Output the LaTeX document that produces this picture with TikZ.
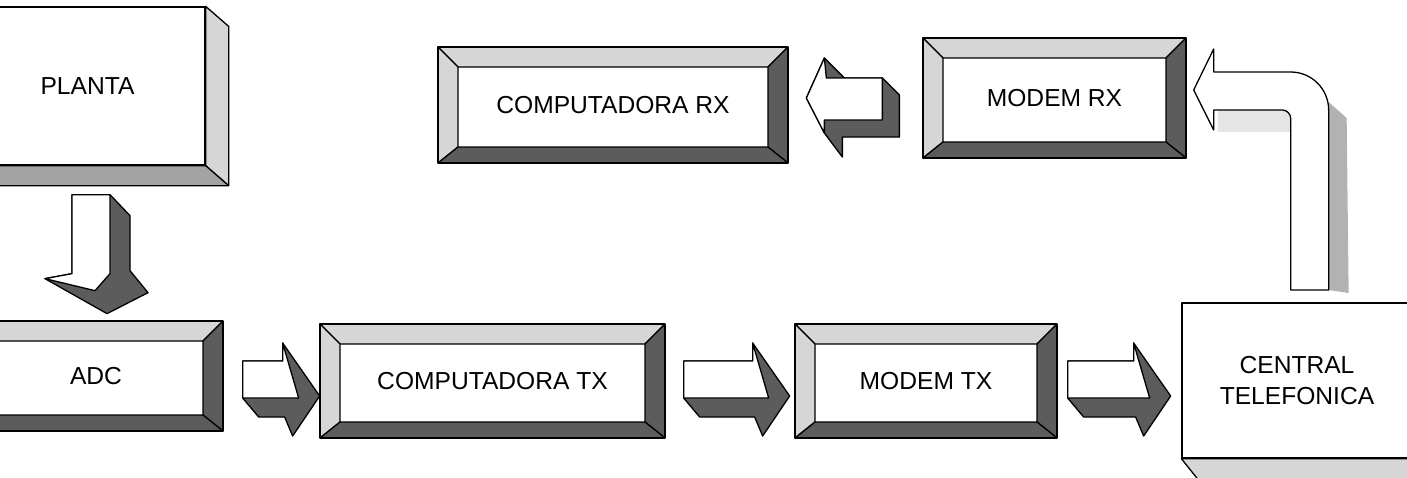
\documentclass[tikz,border=0pt]{standalone}
\usepackage{fontspec}
\setmainfont{Liberation Sans}
\usetikzlibrary{calc}
\colorlet{shadelt}{black!16}
\colorlet{shademd}{black!36}
\colorlet{shadedk}{black!64}
\tikzset{
  lbl/.style={font=\fontsize{12.3}{15.5}\selectfont, align=center},
  solidbox/.style={draw, fill=white, lbl, inner sep=0pt},
  bevelbox/.style={solidbox, path picture={
      \coordinate (nw) at (path picture bounding box.north west);
      \coordinate (ne) at (path picture bounding box.north east);
      \coordinate (sw) at (path picture bounding box.south west);
      \coordinate (se) at (path picture bounding box.south east);
      \filldraw[fill=shadelt] (nw) -- (ne) -- ([shift={(-20,20)}]ne) -- ([shift={(20,20)}]nw) -- cycle;
      \filldraw[fill=shadelt] (nw) -- ([shift={(20,20)}]nw) -- ([shift={(20,-16)}]sw) -- (sw) -- cycle;
      \filldraw[fill=shadedk] (ne) -- ([shift={(-20,20)}]ne) -- ([shift={(-20,-16)}]se) -- (se) -- cycle;
      \filldraw[fill=shadedk] (sw) -- ([shift={(20,-16)}]sw) -- ([shift={(-20,-16)}]se) -- (se) -- cycle;
    }},
  face/.style={draw, fill=#1},
  % block arrows, drawn in pixel units
  rarrow/.pic={
    \filldraw[fill=shadedk] (0,0) -- (#1,0) -- (#1,-18) -- ({#1+37},35) -- ({#1+10},75) -- ({#1+2},56) -- (16,56) -- (0,37) -- cycle;
    \filldraw[fill=white] (0,0) -- (#1,0) -- (#1,-18) -- ({#1+16},37) -- (0,37) -- cycle;
  },
  larrow/.pic={
    \filldraw[fill=shadedk] (-76,20) -- (-58,-20) -- (-38,0) -- (0,0) -- (17,17) -- (17,59) -- (-40,59) -- (-40,79) -- (-58,55) -- cycle;
    \filldraw[fill=white] (-76,20) -- (-58,-20) -- (-56,0) -- (0,0) -- (0,42) -- (-58,42) -- (-58,55) -- cycle;
  },
  darrow/.pic={
    \filldraw[fill=shadedk] (0,0) -- (38,0) -- (58,21) -- (58,76) -- (76,98) -- (35,119) -- (-27,84) -- (0,79) -- cycle;
    \filldraw[fill=white] (0,0) -- (38,0) -- (38,79) -- (23,96) -- (-27,84) -- (0,79) -- cycle;
  },
  barrow/.pic={
    \fill[black!10] (24,20) -- (89,20) .. controls (93,20) and (97,24) .. (97,28) -- (97,42) -- (24,42) -- cycle;
    \fill[black!30] (135,12) -- (153,28) -- (155,203) -- (135,200) -- cycle;
    \filldraw[fill=white] (0,0) -- (20,-41) -- (20,-18) -- (97,-18) .. controls (118,-18) and (135,-1) .. (135,20)
      -- (135,200) -- (97,200) -- (97,28) .. controls (97,24) and (93,20) .. (89,20) -- (20,20) -- (20,40) -- cycle;
  },
}
\begin{document}
\begin{tikzpicture}[x=0.5pt, y=-0.5pt, line width=0.65pt, line join=round]
  \useasboundingbox (0,0) rectangle (1407,477);

  \node[solidbox, minimum width=117.5pt, minimum height=79pt] (planta) at (87.5,86) {PLANTA};
  \node[bevelbox, minimum width=127pt, minimum height=55pt] (adc) at (96,376) {ADC};
  \node[bevelbox, minimum width=172.5pt, minimum height=57pt] (ctx) at (492.5,381) {COMPUTADORA TX};
  \node[bevelbox, minimum width=131pt, minimum height=57pt] (mtx) at (926,381) {MODEM TX};
  \node[solidbox, minimum width=115pt, minimum height=77.5pt] (central) at (1297,380.5) {CENTRAL\\TELEFONICA};
  \node[bevelbox, minimum width=175pt, minimum height=58pt] (crx) at (613,105) {COMPUTADORA RX};
  \node[bevelbox, minimum width=131.5pt, minimum height=60pt] (mrx) at (1054.5,98) {MODEM RX};

  % extruded sides
  \draw[face=shadelt] (planta.north east) -- ($(planta.north east)+(23,20)$) -- ($(planta.south east)+(23,20)$) -- (planta.south east) -- cycle;
  \draw[face=shademd] (planta.south west) -- (planta.south east) -- ($(planta.south east)+(23,20)$) -- ($(planta.south west)+(23,20)$) -- cycle;
  \draw[face=shadelt] (central.south west) -- (central.south east) -- ($(central.south east)+(20,25)$) -- ($(central.south west)+(20,25)$) -- cycle;

  % arrows
  \pic at ($(planta.south)+(-15.5,29)$) {darrow};
  \pic at ($(adc.east)+(19,-15)$) {rarrow=40};
  \pic at ($(ctx.east)+(18,-20)$) {rarrow=69};
  \pic at ($(mtx.east)+(10,-20)$) {rarrow=66};
  \pic at ($(mrx.west)+(-40,-20)$) {larrow};
  \pic at ($(mrx.east)+(7,-8)$) {barrow};
\end{tikzpicture}
\end{document}
